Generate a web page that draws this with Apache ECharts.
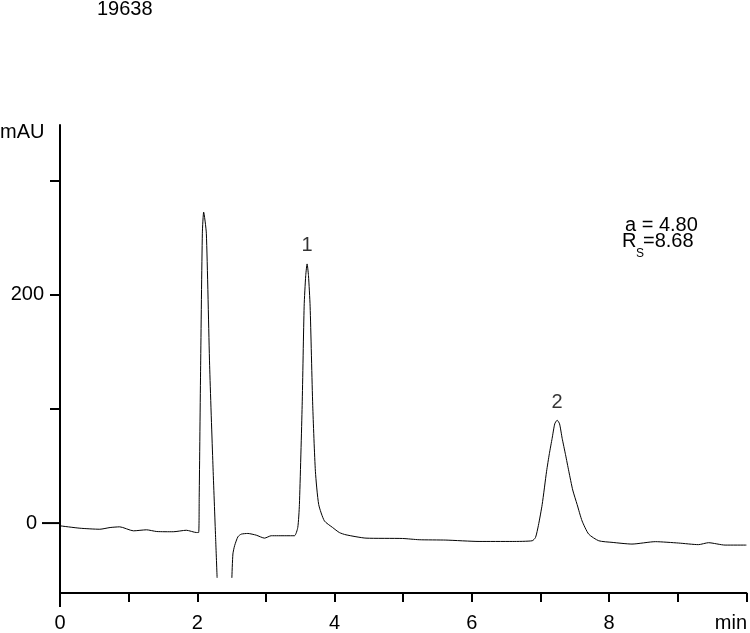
<!DOCTYPE html>
<html>
<head>
<meta charset="utf-8">
<script src="https://cdn.jsdelivr.net/npm/echarts@6/dist/echarts.min.js"></script>
<style>
  html, body { margin: 0; padding: 0; background: #fff; }
  #container { width: 750px; height: 633px; }
</style>
</head>
<body>
<div id="container"></div>
<script>
// detector trace, [time (min), absorbance (mAU)]; '-' marks the part cut off by the recorder
const signal = [
    [0.00, -2.4], [0.29, -4.5], [0.58, -5.4], [0.73, -3.9], [0.87, -3.3],
    [1.07, -6.8], [1.26, -5.9], [1.41, -7.4], [1.65, -7.6], [1.84, -6.3],
    [1.99, -8.3], [2.020, -8.3],
    // solvent front
    [2.028, 22.2], [2.049, 138], [2.074, 254.1], [2.093, 272.6], [2.132, 254.1],
    [2.180, 138], [2.228, 51.1], [2.267, -12.6], [2.289, -48],
    [2.40, '-'],
    [2.504, -48], [2.519, -27.1], [2.544, -19.8], [2.592, -12], [2.641, -9.7],
    [2.737, -9.1], [2.859, -10.6], [2.980, -13.2], [3.077, -11.1], [3.295, -11.1],
    [3.416, -11.1],
    // peak 1
    [3.464, -3.9], [3.488, 16.3], [3.528, 103.2], [3.557, 190.1], [3.580, 217],
    [3.600, 227.2], [3.620, 217], [3.644, 190.1], [3.682, 103.2], [3.721, 45.4],
    [3.769, 16.3], [3.852, 1.9], [3.972, -3.9], [4.070, -8.3], [4.167, -10.3],
    [4.458, -13.2], [4.990, -13.5], [5.233, -14.6], [5.621, -14.9], [6.105, -16.1],
    [6.589, -16.1], [6.880, -15.5], [6.928, -12.6],
    // peak 2
    [6.970, -2], [7.025, 16.3], [7.089, 45.4], [7.130, 61], [7.170, 74.3], [7.208, 87],
    [7.243, 90.2], [7.278, 87], [7.316, 74.3], [7.365, 60], [7.413, 45.4], [7.470, 29],
    [7.534, 16.3], [7.606, 1.9], [7.703, -9.7], [7.849, -15.5], [8.042, -16.9],
    [8.333, -18.4], [8.673, -16.3], [9.012, -17.5], [9.302, -18.9], [9.448, -17.2],
    [9.690, -19.3], [10.0, -19.3]
];

const peakLabels = [
    [3.600, 227.2, '1'],
    [7.243, 90.2, '2']
];

const yMin = -61.3;
const yMax = 349;
const yTickValues = [100, 200, 300];
const yLabelValues = [0, 200];
const xLabelValues = [0, 2, 4, 6, 8];

const sampleId = '19638';
const yUnit = 'mAU';
const xUnit = 'min';
const alphaText = 'a = 4.80';
const resolutionText = '=8.68';

const font = "'Liberation Sans', Arial, sans-serif";

let dom = document.getElementById('container');
let myChart = echarts.init(dom, null, {renderer: 'canvas'});

let axisLine = {show: true, onZero: false, lineStyle: {color: '#000', width: 2}};

let option = {
    animation: false,
    backgroundColor: '#fff',
    grid: {left: 60, right: 2, top: 125, bottom: 37},
    xAxis: {
        type: 'value',
        min: 0,
        max: 10,
        interval: 1,
        axisLine: axisLine,
        axisTick: {length: 9, lineStyle: {color: '#000', width: 2}},
        splitLine: {show: false},
        axisLabel: {
            margin: 20,
            color: '#000',
            fontFamily: font,
            fontSize: 20,
            formatter: function (v) {
                if (v === 10) return '{u|' + xUnit + '}';
                return xLabelValues.indexOf(v) >= 0 ? String(v) : '';
            },
            rich: {
                u: {fontFamily: font, fontSize: 20, color: '#000', padding: [0, 31, 0, 0]}
            }
        }
    },
    yAxis: {
        type: 'value',
        min: yMin,
        max: yMax,
        splitLine: {show: false},
        axisLine: axisLine,
        axisTick: {customValues: yTickValues, length: 10, lineStyle: {color: '#000', width: 2}},
        axisLabel: {
            customValues: yLabelValues,
            margin: 16,
            color: '#000',
            fontFamily: font,
            fontSize: 20,
            formatter: function (v) {
                return v === 0 ? '{z|0}' : String(v);
            },
            rich: {
                z: {fontFamily: font, fontSize: 20, color: '#000', padding: [0, 7, 0, 0]}
            }
        }
    },
    graphic: [
        {id: 'sample', type: 'text', left: 97, top: -1, style: {text: sampleId, font: '20px ' + font, fill: '#000'}},
        {id: 'yunit', type: 'text', left: 0, top: 122, style: {text: yUnit, font: '20px ' + font, fill: '#000'}},
        {id: 'alpha', type: 'text', left: 625, top: 215, style: {text: alphaText, font: '20px ' + font, fill: '#000'}},
        {id: 'rs1', type: 'text', left: 622, top: 231, style: {text: 'R', font: '20px ' + font, fill: '#000'}},
        {id: 'rs2', type: 'text', left: 636, top: 248, style: {text: 'S', font: '12px ' + font, fill: '#000'}},
        {id: 'rs3', type: 'text', left: 643, top: 231, style: {text: resolutionText, font: '20px ' + font, fill: '#000'}}
    ],
    series: [
        {
            name: 'signal',
            type: 'line',
            data: signal,
            showSymbol: false,
            smooth: 0.2,
            connectNulls: false,
            silent: true,
            lineStyle: {color: '#000', width: 1}
        },
        {
            name: 'peaks',
            type: 'scatter',
            data: peakLabels,
            symbolSize: 0,
            silent: true,
            label: {
                show: true,
                position: 'top',
                distance: 8,
                color: '#000',
                fontFamily: font,
                fontSize: 20,
                formatter: function (p) { return p.value[2]; }
            }
        }
    ]
};

myChart.setOption(option, true);

// long zero mark and the y axis running past the x axis, placed through the axis scale
let zeroPt = myChart.convertToPixel({seriesIndex: 0}, [0, 0]);
let cornerPt = myChart.convertToPixel({seriesIndex: 0}, [0, yMin]);
if (zeroPt && cornerPt) {
    myChart.setOption({
        graphic: [
            {id: 'zeroTick', type: 'line', silent: true, z: 100,
                shape: {x1: zeroPt[0] - 18, y1: zeroPt[1], x2: zeroPt[0], y2: zeroPt[1]},
                style: {stroke: '#000', lineWidth: 2}},
            {id: 'axisFoot', type: 'line', silent: true, z: 100,
                shape: {x1: cornerPt[0], y1: cornerPt[1], x2: cornerPt[0], y2: cornerPt[1] + 14},
                style: {stroke: '#000', lineWidth: 2}}
        ]
    });
}
</script>
</body>
</html>
